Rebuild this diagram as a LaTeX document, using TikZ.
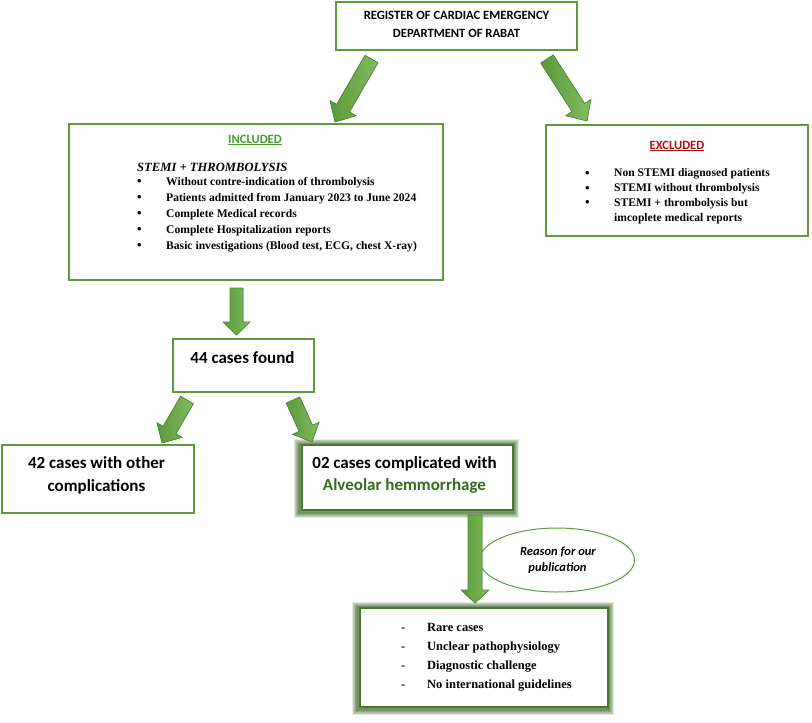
\documentclass[tikz,border=0pt]{standalone}
\usepackage{fontspec}
\setmainfont{Liberation Serif}
\newfontfamily\calfont{Carlito}
\usetikzlibrary{calc,shapes.geometric,backgrounds}
\definecolor{boxg}{HTML}{5B9B3C}
\definecolor{glowg}{HTML}{2F5A1A}
\definecolor{thickg}{HTML}{467A2A}
\definecolor{arrL}{HTML}{5A9A3A}
\definecolor{arrR}{HTML}{82BC5F}
\definecolor{arrO}{HTML}{4F8A32}
\definecolor{incg}{HTML}{43A02C}
\definecolor{excr}{HTML}{B01010}
\definecolor{alvg}{HTML}{336B1F}
\newcommand\barrow[5]{%
  \path ($(#2)!#5!(#1)$) coordinate (bh);
  \filldraw[arrowsty] ($(#1)!#3!90:(#2)$) -- ($(bh)!#3!90:(#2)$) -- ($(bh)!#4!90:(#2)$) -- (#2) -- ($(bh)!#4!-90:(#2)$) -- ($(bh)!#3!-90:(#2)$) -- ($(#1)!#3!-90:(#2)$) -- cycle;}
\newcommand\glowbox[1]{%
  \begin{pgfonlayer}{background}
  \foreach \i in {1,...,9} {\draw[glowg, draw opacity=0.12, line width=\i*1.25pt] ($(#1.south west)+(-1,1)$) rectangle ($(#1.north east)+(-1,1)$);}
  \end{pgfonlayer}}
\begin{document}
\begin{tikzpicture}[x=1pt,y=-1pt,
  box/.style={draw=boxg, line width=1.3pt, fill=white, rectangle, inner sep=0pt},
  thickbox/.style={draw=thickg, line width=2.6pt, fill=white, rectangle, inner sep=0pt},
  arrowsty/.style={draw=arrO, line width=0.7pt, left color=arrL, right color=arrR},
  caltxt/.style={font=\calfont\bfseries\fontsize{12.6}{14}\selectfont, anchor=base, inner sep=0pt},
  hdtxt/.style={font=\calfont\bfseries\fontsize{12.6}{14}\selectfont, anchor=base, inner sep=0pt},
  bigtxt/.style={font=\calfont\bfseries\fontsize{17}{19}\selectfont, anchor=base, inner sep=0pt},
  listtxt/.style={font=\bfseries\fontsize{11.6}{14}\selectfont, anchor=base west, inner sep=0pt},
  bultxt/.style={font=\bfseries\fontsize{13}{14}\selectfont, anchor=base west, inner sep=0pt},
  blisttxt/.style={font=\bfseries\fontsize{12.5}{14}\selectfont, anchor=base west, inner sep=0pt}]
\useasboundingbox (0,0) rectangle (812,723);

% boxes
\node[box, minimum width=241pt, minimum height=48pt] (top) at (456.5,26) {};
\node[box, minimum width=374pt, minimum height=156pt] (inc) at (256,202) {};
\node[box, minimum width=262pt, minimum height=111pt] (exc) at (677,180.5) {};
\node[box, minimum width=141pt, minimum height=53pt] (found) at (243.5,365.5) {};
\node[box, minimum width=192pt, minimum height=68pt] (other) at (98,479) {};
\node[thickbox, minimum width=211pt, minimum height=65pt] (alv) at (407.5,477.5) {};
\glowbox{alv}
\node[thickbox, minimum width=248pt, minimum height=99pt] (reasons) at (484,657.5) {};
\glowbox{reasons}
\node[ellipse, draw=boxg, line width=1pt, fill=white, minimum width=155pt, minimum height=64pt, inner sep=0pt] (why) at (557,560) {};

% arrows
\coordinate (a1s) at (371.5,59); \coordinate (a1e) at (335,122);
\coordinate (a2s) at (547,59);   \coordinate (a2e) at (587,121);
\coordinate (a3s) at (236.5,288); \coordinate (a3e) at (236.5,335);
\coordinate (a4s) at (187,400);  \coordinate (a4e) at (162,443);
\coordinate (a5s) at (293,400);  \coordinate (a5e) at (312,442);
\coordinate (a6s) at (475,515);  \coordinate (a6e) at (475,603);
\barrow{a1s}{a1e}{7.5pt}{15pt}{16pt}
\barrow{a2s}{a2e}{7.5pt}{15pt}{16pt}
\barrow{a3s}{a3e}{6.5pt}{13.5pt}{13pt}
\barrow{a4s}{a4e}{7.4pt}{14.5pt}{15pt}
\barrow{a5s}{a5e}{7.4pt}{14.5pt}{15pt}
\barrow{a6s}{a6e}{7pt}{14pt}{13pt}

% top text
\node[caltxt] (topA) at (456.5,19) {REGISTER OF CARDIAC EMERGENCY};
\node[caltxt] (topB) at (456.5,37) {DEPARTMENT OF RABAT};

% included
\node[hdtxt, text=incg] (incT) at (255,143) {\underline{INCLUDED}};
\node[font=\bfseries\itshape\fontsize{12.6}{14}\selectfont, anchor=base west, inner sep=0pt] (incS) at (137,171.5) {STEMI + THROMBOLYSIS};
\foreach \t [count=\k] in {Without contre-indication of thrombolysis, Patients admitted from January 2023 to June 2024, Complete Medical records, Complete Hospitalization reports, {Basic investigations (Blood test, ECG, chest X-ray)}} {
  \node[bultxt] (incB\k) at (137,169+16*\k) {•};
  \node[listtxt] (incL\k) at (166,169+16*\k) {\t};
}

% excluded
\node[hdtxt, text=excr] (excT) at (677,149) {\underline{EXCLUDED}};
\node[bultxt] (excB1) at (585,177.3) {•};
\node[listtxt] (excL1) at (614,176.8) {Non STEMI diagnosed patients};
\node[bultxt] (excB2) at (585,192.1) {•};
\node[listtxt] (excL2) at (614,191.6) {STEMI without thrombolysis};
\node[bultxt] (excB3) at (585,206.9) {•};
\node[listtxt] (excL3) at (614,206.4) {STEMI + thrombolysis but};
\node[listtxt] (excL4) at (614,221.2) {imcoplete medical reports};

% counts
\node[bigtxt] (foundT) at (242.5,363) {44 cases found};
\node[bigtxt] (otherA) at (96.5,468) {42 cases with other};
\node[bigtxt] (otherB) at (96.5,491) {complications};
\node[bigtxt] (alvA) at (404.5,468) {02 cases complicated with};
\node[bigtxt, text=alvg] (alvB) at (404.5,490) {Alveolar hemmorrhage};

% ellipse text
\node[font=\calfont\bfseries\itshape\fontsize{12.5}{13}\selectfont, anchor=base, inner sep=0pt] (whyA) at (558,555) {Reason for our};
\node[font=\calfont\bfseries\itshape\fontsize{12.5}{13}\selectfont, anchor=base, inner sep=0pt] (whyB) at (557.5,571) {publication};

% reasons
\foreach \t [count=\k] in {Rare cases, Unclear pathophysiology, Diagnostic challenge, No international guidelines} {
  \node[blisttxt] (resD\k) at (401,612.7+19*\k) {-};
  \node[blisttxt] (resL\k) at (427,612.7+19*\k) {\t};
}
\end{tikzpicture}
\end{document}
